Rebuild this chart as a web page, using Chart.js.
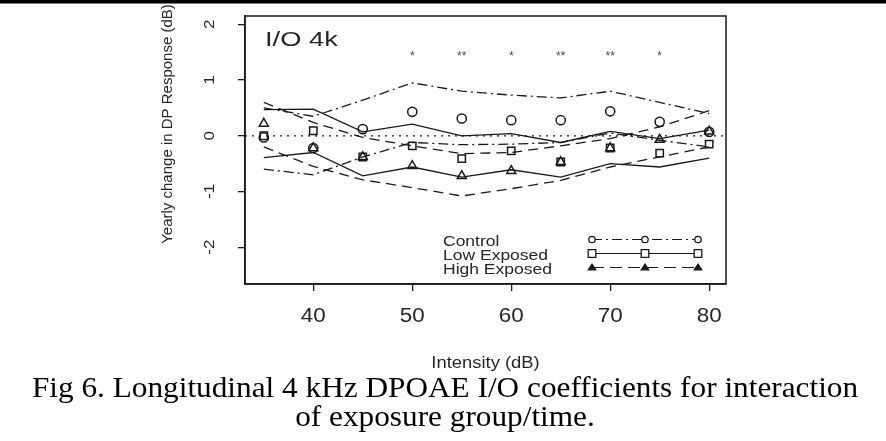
<!DOCTYPE html>
<html><head><meta charset="utf-8">
<script src="https://cdn.jsdelivr.net/npm/chart.js@4/dist/chart.umd.min.js"></script>
<style>html,body{margin:0;padding:0;background:#fff;overflow:hidden;}</style>
</head><body>
<canvas id="c" width="886" height="441"></canvas>
<script>
// ---- data ----
const intensity = [35, 40, 45, 50, 55, 60, 65, 70, 75, 80];
const controlMean  = [-0.03, -0.22, 0.12, 0.43, 0.31, 0.28, 0.28, 0.44, 0.25, 0.07];
const controlUpper = [0.50, 0.35, 0.64, 0.95, 0.80, 0.73, 0.68, 0.80, 0.60, 0.40];
const controlLower = [-0.60, -0.70, -0.38, -0.12, -0.16, -0.15, -0.12, 0.05, -0.08, -0.20];
const lowMean  = [0.00, 0.09, -0.38, -0.18, -0.41, -0.27, -0.47, -0.22, -0.31, -0.15];
const lowUpper = [0.47, 0.48, 0.07, 0.21, 0.00, 0.04, -0.12, 0.08, -0.05, 0.10];
const lowLower = [-0.39, -0.30, -0.72, -0.56, -0.74, -0.61, -0.74, -0.50, -0.56, -0.40];
const highMean  = [0.22, -0.22, -0.38, -0.54, -0.72, -0.63, -0.47, -0.22, -0.07, 0.08];
const highUpper = [0.60, 0.24, -0.03, -0.18, -0.32, -0.30, -0.18, -0.05, 0.16, 0.45];
const highLower = [-0.20, -0.55, -0.79, -0.93, -1.08, -0.95, -0.80, -0.56, -0.38, -0.20];
const significance = ['', '', '', '*', '**', '*', '**', '**', '*', ''];
const xTicks = [40, 50, 60, 70, 80];
const yTicks = [-2, -1, 0, 1, 2];
const groupNames = ['Control', 'Low Exposed', 'High Exposed'];
const panelLabel = 'I/O 4k';
const xTitle = 'Intensity (dB)';
const yTitle = 'Yearly change in DP Response (dB)';
const captionLines = ['Fig 6. Longitudinal 4 kHz DPOAE I/O coefficients for interaction', 'of exposure group/time.'];

// ---- styles ----
const INK = '#1a1a1a';
const TXT = '#262626';
const DASHDOT = [10, 4, 2, 4];
const DASHED = [10, 6];
const SANS = '"Liberation Sans", Arial, sans-serif';
const SERIF = '"Liberation Serif", "Times New Roman", serif';

const pts = arr => intensity.map((x, i) => ({x: x, y: arr[i]}));
function bandLine(label, arr, dash) {
  return {label, data: pts(arr), borderColor: INK, borderWidth: 1.3, borderDash: dash,
    pointRadius: 0, fill: false, tension: 0, showLine: true};
}
function markers(label, arr, style, r) {
  return {label, data: pts(arr), showLine: false, pointStyle: style, pointRadius: r,
    pointBorderWidth: 1.5, pointBorderColor: INK, pointBackgroundColor: 'rgba(0,0,0,0)', borderColor: INK};
}

function sym(ctx, type, x, y, r, filled) {
  ctx.beginPath();
  if (type === 'circle') { ctx.arc(x, y, r, 0, Math.PI * 2); }
  else if (type === 'rect') { ctx.rect(x - r, y - r, 2 * r, 2 * r); }
  else { ctx.moveTo(x, y - r); ctx.lineTo(x + r * 1.1, y + r * 0.7); ctx.lineTo(x - r * 1.1, y + r * 0.7); ctx.closePath(); }
  ctx.fillStyle = filled ? INK : '#fff'; ctx.fill(); ctx.stroke();
}
function stretchText(ctx, text, x, y, sx) {
  ctx.save(); ctx.translate(x, y); ctx.scale(sx, 1); ctx.fillText(text, 0, 0); ctx.restore();
}

const decor = {
  id: 'decor',
  beforeDatasetsDraw(chart) {
    const {ctx, chartArea: a, scales: {y}} = chart;
    ctx.save();
    ctx.strokeStyle = INK; ctx.lineWidth = 1.2; ctx.setLineDash([2, 5]);
    const y0 = y.getPixelForValue(0);
    ctx.beginPath(); ctx.moveTo(a.left, y0); ctx.lineTo(a.right, y0); ctx.stroke();
    ctx.restore();
  },
  afterDraw(chart) {
    const {ctx, chartArea: a, scales: {x, y}} = chart;
    ctx.save();
    ctx.fillStyle = '#000'; ctx.fillRect(0, 0, 886, 3.5);
    ctx.strokeStyle = INK; ctx.lineWidth = 1.5; ctx.setLineDash([]);
    ctx.strokeRect(a.left, a.top, a.right - a.left, a.bottom - a.top);
    // y tick labels rotated
    ctx.fillStyle = TXT; ctx.font = '17px ' + SANS; ctx.textAlign = 'center'; ctx.textBaseline = 'middle';
    yTicks.forEach(v => {
      ctx.save(); ctx.translate(210, y.getPixelForValue(v)); ctx.rotate(-Math.PI / 2); ctx.scale(1, 0.85);
      ctx.fillText(String(v), 0, 0); ctx.restore();
    });
    // x tick labels
    ctx.font = '20px ' + SANS;
    xTicks.forEach(v => stretchText(ctx, String(v), x.getPixelForValue(v), 316, 1.12));
    // y title
    ctx.font = '15px ' + SANS;
    ctx.save(); ctx.translate(168, 124); ctx.rotate(-Math.PI / 2); ctx.fillText(yTitle, 0, 0); ctx.restore();
    // x title
    ctx.font = '16px ' + SANS;
    stretchText(ctx, xTitle, (a.left + a.right) / 2, 364, 1.15);
    // panel label
    ctx.textAlign = 'left'; ctx.font = '21px ' + SANS;
    stretchText(ctx, panelLabel, a.left + 20, 40, 1.3);
    // significance stars
    ctx.textAlign = 'center'; ctx.font = '12px ' + SANS; ctx.fillStyle = '#4a4a4a';
    intensity.forEach((v, i) => { if (significance[i]) ctx.fillText(significance[i], x.getPixelForValue(v), y.getPixelForValue(1.42)); });
    // legend
    const styles = [['circle', DASHDOT, 3.2, false], ['rect', [], 3.8, false], ['triangle', [12, 6], 3.4, true]];
    groupNames.forEach((n, i) => {
      const ty = 242 + i * 14;
      ctx.fillStyle = TXT; ctx.font = '14px ' + SANS; ctx.textAlign = 'left';
      stretchText(ctx, n, 443, ty, 1.25);
      const ly = ty - 2.5;
      ctx.strokeStyle = INK; ctx.lineWidth = 1.2; ctx.setLineDash(styles[i][1]);
      ctx.beginPath(); ctx.moveTo(592, ly); ctx.lineTo(698, ly); ctx.stroke();
      ctx.setLineDash([]); ctx.lineWidth = 1.3;
      [592, 645, 698].forEach(px => sym(ctx, styles[i][0], px, ly, styles[i][2], styles[i][3]));
    });
    // caption
    ctx.fillStyle = '#000'; ctx.font = '29.5px ' + SERIF; ctx.textAlign = 'center';
    stretchText(ctx, captionLines[0], 445, 389, 1.06);
    stretchText(ctx, captionLines[1], 445, 418, 1.06);
    ctx.restore();
  }
};

new Chart(document.getElementById('c'), {
  type: 'scatter',
  data: {
    datasets: [
      markers(groupNames[0], controlMean, 'circle', 4.6),
      markers(groupNames[1], lowMean, 'rect', 5.2),
      markers(groupNames[2], highMean, 'triangle', 5.2),
      bandLine('Control upper', controlUpper, DASHDOT),
      bandLine('Control lower', controlLower, DASHDOT),
      bandLine('Low upper', lowUpper, []),
      bandLine('Low lower', lowLower, []),
      bandLine('High upper', highUpper, DASHED),
      bandLine('High lower', highLower, DASHED)
    ]
  },
  options: {
    responsive: false, animation: false, devicePixelRatio: 1,
    layout: {padding: {top: 16, right: 160, left: 0, bottom: 0}},
    plugins: {legend: {display: false}, tooltip: {enabled: false}, title: {display: false}},
    scales: {
      x: {
        type: 'linear', min: 33.1, max: 81.7,
        afterBuildTicks: s => { s.ticks = xTicks.map(v => ({value: v})); },
        afterFit: s => { s.height = 157; },
        ticks: {display: false},
        grid: {drawOnChartArea: false, tickLength: 7, color: INK, lineWidth: 1.3},
        border: {display: true, color: INK, width: 1.5}
      },
      y: {
        type: 'linear', min: -2.66, max: 2.15,
        afterBuildTicks: s => { s.ticks = yTicks.map(v => ({value: v})); },
        afterFit: s => { s.width = 245; },
        ticks: {display: false},
        grid: {drawOnChartArea: false, tickLength: 7, color: INK, lineWidth: 1.3},
        border: {display: true, color: INK, width: 1.5}
      }
    }
  },
  plugins: [decor]
});
</script>
</body></html>
